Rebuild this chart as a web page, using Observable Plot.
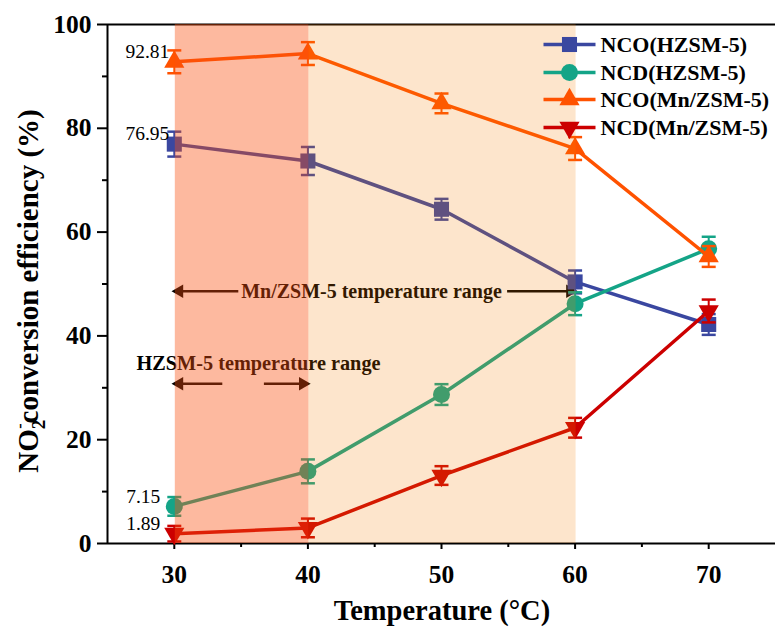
<!DOCTYPE html>
<html><head><meta charset="utf-8">
<script src="https://cdn.jsdelivr.net/npm/d3@7"></script>
<script src="https://cdn.jsdelivr.net/npm/@observablehq/plot@0.6"></script>
<style>body{margin:0;background:#fff} svg{display:block}</style>
</head><body><div id="chart"></div>
<script>
// ---------- data ----------
const temperatures = [30, 40, 50, 60, 70];
const seriesNames = ["NCO(HZSM-5)", "NCD(HZSM-5)", "NCO(Mn/ZSM-5)", "NCD(Mn/ZSM-5)"];
const ncoHZSM = [76.95, 73.7, 64.4, 50.4, 42.2];
const ncoHZSMErr = [2.4, 2.7, 2.0, 2.2, 2.0];
const ncdHZSM = [7.15, 13.9, 28.7, 46.2, 56.8];
const ncdHZSMErr = [1.8, 2.3, 2.0, 2.2, 2.3];
const ncoMn = [92.81, 94.4, 84.8, 76.1, 55.3];
const ncoMnErr = [2.2, 2.2, 1.9, 2.2, 2.0];
const ncdMn = [1.89, 3.0, 13.1, 22.3, 44.8];
const ncdMnErr = [1.5, 1.8, 1.8, 1.9, 2.2];
const xTicks = [30, 40, 50, 60, 70];
const xMinorTicks = [35, 45, 55, 65];
const yTicks = [0, 20, 40, 60, 80, 100];
const yMinorTicks = [10, 30, 50, 70, 90];
const mnRangeLabel = "Mn/ZSM-5 temperature range";
const hzRangeLabel = "HZSM-5 temperature range";
const mnRange = [30, 60];
const hzRange = [30, 40];

// ---------- layout ----------
const W = 775, H = 628, mL = 107, mR = 0, mT = 24, mB = 85;
const xDomain = [25, 75], yDomain = [0, 100];
const pxX = p => xDomain[0] + (p - mL) / (W - mL - mR) * (xDomain[1] - xDomain[0]);
const pxY = p => yDomain[0] + (H - mB - p) / (H - mB - mT) * (yDomain[1] - yDomain[0]);
const dX = px => px / (W - mL - mR) * (xDomain[1] - xDomain[0]);

const colors = ["#3A47A0", "#14A487", "#FF5200", "#CC0000"];
const symbols = ["square", "circle", "triangle", "triangle"];
const rotations = [0, 0, 0, 180];
const radii = [8.5, 8.5, 7.5, 7.5];
const values = [ncoHZSM, ncdHZSM, ncoMn, ncdMn];
const errors = [ncoHZSMErr, ncdHZSMErr, ncoMnErr, ncdMnErr];

const series = seriesNames.map((name, i) =>
  temperatures.map((t, j) => ({name, t, v: values[i][j], e: errors[i][j]})));

const font = "'Liberation Serif', 'Times New Roman', serif";
const capHalf = dX(7);

const marks = [];
// frame
marks.push(Plot.ruleY([yDomain[0]], {stroke: "#000", strokeWidth: 2}));
marks.push(Plot.ruleY([yDomain[1]], {stroke: "#000", strokeWidth: 2}));
marks.push(Plot.ruleX([xDomain[0]], {stroke: "#000", strokeWidth: 2}));
// axes
marks.push(Plot.axisX({ticks: xTicks, tickSize: 6, tickPadding: 15, fontSize: 25.5, fontWeight: "bold", label: null, strokeWidth: 2}));
marks.push(Plot.axisX({ticks: xMinorTicks, tickSize: 4, tickFormat: () => "", label: null, strokeWidth: 2}));
marks.push(Plot.axisY({ticks: yTicks, tickSize: 10, tickPadding: 6, fontSize: 25.5, fontWeight: "bold", label: null, strokeWidth: 2}));
marks.push(Plot.axisY({ticks: yMinorTicks, tickSize: 5, tickFormat: () => "", label: null, strokeWidth: 2}));

// annotations
const mnY = 48.6, hzTextY = 34.7, hzArrowY = 30.8;
const headSize = 5;
marks.push(Plot.text([mnRangeLabel], {x: pxX(371), y: mnY, text: d => d, fontSize: 20, fontWeight: "bold", fill: "#000"}));
marks.push(Plot.link([0], {x1: mnRange[0] + dX(6), x2: mnRange[0] + dX(64), y1: mnY, y2: mnY, stroke: "#000", strokeWidth: 2.5}));
marks.push(Plot.link([0], {x1: mnRange[1] - dX(68), x2: mnRange[1] - dX(6), y1: mnY, y2: mnY, stroke: "#000", strokeWidth: 2.5}));
marks.push(Plot.dot([0], {x: mnRange[0] + dX(5), y: mnY, symbol: "triangle", rotate: -90, r: headSize, fill: "#000"}));
marks.push(Plot.dot([0], {x: mnRange[1] - dX(5), y: mnY, symbol: "triangle", rotate: 90, r: headSize, fill: "#000"}));

marks.push(Plot.text([hzRangeLabel], {x: pxX(258), y: hzTextY, text: d => d, fontSize: 20.3, fontWeight: "bold", fill: "#000"}));
marks.push(Plot.link([0], {x1: hzRange[0] + dX(6), x2: hzRange[0] + dX(48), y1: hzArrowY, y2: hzArrowY, stroke: "#000", strokeWidth: 2.5}));
marks.push(Plot.link([0], {x1: hzRange[1] - dX(44), x2: hzRange[1] - dX(6), y1: hzArrowY, y2: hzArrowY, stroke: "#000", strokeWidth: 2.5}));
marks.push(Plot.dot([0], {x: hzRange[0] + dX(5), y: hzArrowY, symbol: "triangle", rotate: -90, r: headSize, fill: "#000"}));
marks.push(Plot.dot([0], {x: hzRange[1] - dX(5), y: hzArrowY, symbol: "triangle", rotate: 90, r: headSize, fill: "#000"}));

// series
series.forEach((rows, i) => {
  marks.push(Plot.line(rows, {x: "t", y: "v", stroke: colors[i], strokeWidth: 3.5}));
  marks.push(Plot.link(rows, {x1: "t", x2: "t", y1: d => d.v - d.e, y2: d => d.v + d.e, stroke: colors[i], strokeWidth: 2}));
  marks.push(Plot.link(rows, {x1: d => d.t - capHalf, x2: d => d.t + capHalf, y1: d => d.v - d.e, y2: d => d.v - d.e, stroke: colors[i], strokeWidth: 2.5}));
  marks.push(Plot.link(rows, {x1: d => d.t - capHalf, x2: d => d.t + capHalf, y1: d => d.v + d.e, y2: d => d.v + d.e, stroke: colors[i], strokeWidth: 2.5}));
  marks.push(Plot.dot(rows, {x: "t", y: "v", symbol: symbols[i], r: radii[i], fill: colors[i], rotate: rotations[i]}));
});

// value labels of the first points
const firstBig = [series[2][0], series[0][0]];
const firstSmall = [series[1][0], series[3][0]];
marks.push(Plot.text(firstBig, {x: "t", y: "v", text: d => d.v.toFixed(2), textAnchor: "end", dx: -5, dy: -10, fontSize: 19.5, fill: "#000"}));
marks.push(Plot.text(firstSmall, {x: "t", y: "v", text: d => d.v.toFixed(2), textAnchor: "end", dx: -14, dy: -10, fontSize: 19.5, fill: "#000"}));

// shading overlays (drawn over the data like the reference)
marks.push(Plot.rect([hzRange], {x1: d => d[0], x2: d => d[1], y1: yDomain[0], y2: yDomain[1], fill: "#FA500E", fillOpacity: 0.4, dx: 1}));
marks.push(Plot.rect([[hzRange[1], mnRange[1]]], {x1: d => d[0], x2: d => d[1], y1: yDomain[0], y2: yDomain[1], fill: "#F57E00", fillOpacity: 0.2, dx: 1}));

// legend
const legRowsPx = [44, 72, 99, 127];
const legend = seriesNames.map((name, i) => ({name, i, y: pxY(legRowsPx[i])}));
marks.push(Plot.link(legend, {x1: pxX(543), x2: pxX(595), y1: "y", y2: "y", stroke: d => colors[d.i], strokeWidth: 3.5}));
legend.forEach((d, i) => {
  marks.push(Plot.dot([d], {x: pxX(569), y: "y", symbol: symbols[i], r: radii[i], fill: colors[i], rotate: rotations[i]}));
});
marks.push(Plot.text(legend, {x: pxX(600), y: "y", text: "name", textAnchor: "start", fontSize: 22, fontWeight: "bold", fill: "#000"}));

const svg = Plot.plot({
  width: W, height: H,
  marginLeft: mL, marginRight: mR, marginTop: mT, marginBottom: mB,
  x: {domain: xDomain},
  y: {domain: yDomain},
  style: {fontFamily: font, background: "#fff", color: "#000", overflow: "visible"},
  marks
});

// axis titles
const s = d3.select(svg);
s.append("text")
  .attr("x", 442).attr("y", 620)
  .attr("text-anchor", "middle")
  .attr("font-family", font).attr("font-weight", "bold").attr("font-size", 28.5)
  .attr("fill", "#000")
  .text("Temperature (°C)");
const yt = s.append("text")
  .attr("transform", "translate(38,291) rotate(-90)")
  .attr("text-anchor", "middle")
  .attr("font-family", font).attr("font-weight", "bold").attr("font-size", 29)
  .attr("fill", "#000");
yt.append("tspan").text("NO");
yt.append("tspan").attr("font-size", 19).attr("dy", 7).text("2");
yt.append("tspan").attr("font-size", 16).attr("dx", -9).attr("dy", -20).text("-");
yt.append("tspan").attr("dy", 13).text("conversion efficiency (%)");

document.getElementById("chart").appendChild(svg);
</script>
</body></html>
